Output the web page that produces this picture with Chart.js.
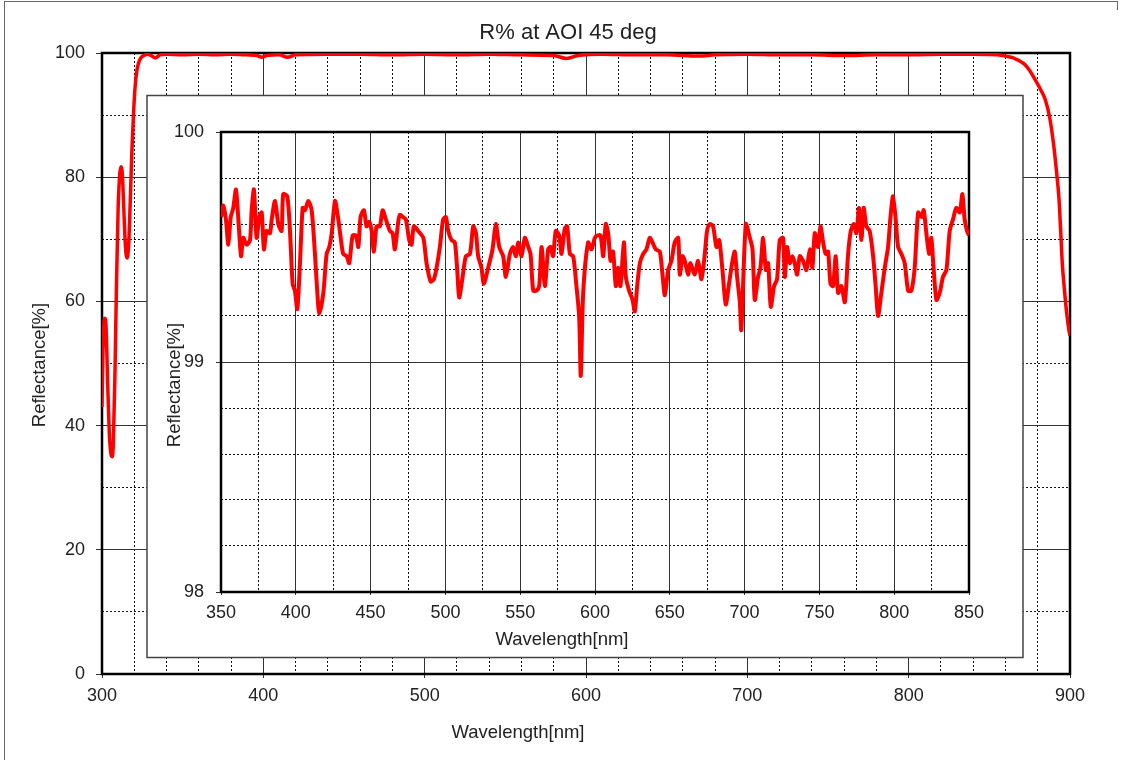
<!DOCTYPE html>
<html>
<head>
<meta charset="utf-8">
<title>R% at AOI 45 deg</title>
<script src="https://cdn.jsdelivr.net/npm/chart.js@4.4.1/dist/chart.umd.min.js"></script>
<style>
  html, body { margin: 0; padding: 0; background: #fff; }
  body { width: 1126px; height: 760px; position: relative; overflow: hidden; }
  #sheet { position: absolute; left: 4px; top: 1px; width: 1114px; height: 800px; border-left: 1px solid #666; border-top: 1px solid #666; box-sizing: border-box; }
  #sheet::after { content: ''; position: absolute; right: 0; top: -1px; width: 1px; height: 9px; background: #666; }
  #mainChart { position: absolute; left: 0; top: 0; }
  #insetChart { position: absolute; left: 146px; top: 94px; }
</style>
</head>
<body>
<div id="sheet"></div>
<canvas id="mainChart" width="1126" height="760"></canvas>
<canvas id="insetChart" width="878" height="565"></canvas>
<script>
// full range 300-900 nm
const outerNm = [300, 300.6, 301.2, 301.8, 302.5, 303.5, 304.5, 305.5, 306.3, 307, 308, 309, 310, 311, 311.8,
  312.6, 313.5, 314.5, 315.5, 316.5, 317.5, 318.5, 319.5, 320.5, 321.5, 322.7, 324, 326, 328, 331, 333, 336,
  340, 350, 360, 370, 380, 390, 396, 399, 402, 410, 415, 420, 440, 460, 480, 500, 520, 540, 560, 580, 588,
  595, 610, 630, 650, 670, 680, 700, 720, 740, 760, 780, 800, 820, 840, 855, 860, 865, 871.4, 875, 878.6,
  882, 884.8, 887.5, 890, 891.8, 893.1, 894.2, 895.2, 896.5, 898, 899.3, 900];
const outerR = [43, 52, 56.5, 57.3, 56, 47, 39, 35.5, 35, 37, 48, 63, 75, 80.5, 81.7,
  80.5, 75, 69, 67, 69, 76, 84, 90, 94.5, 97, 98.4, 99.2, 99.6, 99.8, 99.5, 99.2, 99.7,
  99.8, 99.7, 99.8, 99.7, 99.8, 99.7, 99.6, 99.3, 99.6, 99.7, 99.3, 99.7, 99.8, 99.8, 99.7, 99.8, 99.7, 99.8, 99.7, 99.6, 99.1,
  99.6, 99.8, 99.7, 99.7, 99.5, 99.7, 99.8, 99.7, 99.7, 99.6, 99.7, 99.7, 99.8, 99.8, 99.7, 99.5, 99.2, 98.3, 97.2, 95.6,
  94, 92.4, 89.5, 84.9, 80.5, 76.8, 71.5, 66.2, 62, 58, 55.4, 54.5];

// zoomed range 350-850 nm
const insetNm = [350.0, 351.6, 353.3, 354.9, 356.5, 358.2, 360.0, 361.6, 363.4, 364.9, 367.1, 369.4, 370.5, 372.0,
  373.8, 375.6, 377.2, 378.7, 380.5, 382.7, 383.9, 386.1, 388.3, 390.5, 391.6, 394.3, 396.1, 397.9, 399.4, 401.0,
  402.8, 404.6, 406.1, 408.3, 410.6, 412.8, 414.4, 415.7, 418.4, 420.6, 422.4, 424.0, 426.2, 428.4, 430.0, 431.7,
  434.0, 435.7, 438.0, 440.2, 441.8, 443.3, 445.5, 447.3, 449.1, 450.7, 452.2, 454.0, 456.2, 458.0, 460.2, 462.9,
  464.7, 466.2, 468.5, 469.6, 471.8, 473.6, 475.8, 477.4, 478.9, 481.8, 485.2, 487.4, 490.1, 492.3, 494.1, 496.3,
  498.5, 500.3, 501.9, 504.1, 506.3, 507.9, 509.2, 511.5, 513.7, 516.4, 518.6, 520.4, 521.9, 524.1, 525.7, 528.6,
  531.5, 533.7, 536.0, 538.6, 540.4, 543.1, 545.3, 547.1, 548.7, 550.9, 553.1, 555.4, 556.9, 558.7, 560.9, 562.7,
  564.3, 566.5, 568.7, 570.3, 572.0, 573.8, 576.1, 577.6, 579.8, 581.4, 583.2, 585.4, 587.6, 589.4, 590.5, 592.1,
  595.4, 597.7, 599.9, 601.5, 603.7, 605.5, 607.2, 608.8, 610.4, 612.1, 613.9, 615.5, 617.0, 619.3, 620.6, 622.8,
  625.1, 626.6, 628.2, 630.0, 632.2, 634.4, 636.6, 638.4, 640.6, 643.3, 645.1, 646.7, 648.9, 651.1, 653.3, 655.6,
  656.7, 658.5, 660.0, 662.2, 663.8, 666.7, 668.9, 671.2, 673.4, 674.9, 676.7, 678.9, 681.2, 683.0, 685.2, 687.4,
  689.6, 691.9, 693.4, 695.0, 696.8, 697.8, 700.8, 703.5, 705.3, 706.8, 709.0, 710.6, 712.4, 714.2, 715.7, 717.5,
  719.7, 721.7, 723.5, 725.7, 726.9, 728.4, 730.2, 732.0, 733.5, 735.1, 736.9, 739.1, 741.3, 743.6, 745.3, 746.9,
  749.1, 750.7, 752.5, 754.2, 755.8, 757.4, 759.1, 760.9, 762.5, 764.7, 767.0, 769.2, 771.0, 773.0, 774.7, 776.5,
  778.1, 779.6, 781.4, 783.6, 785.9, 787.6, 789.2, 791.4, 793.7, 795.9, 797.5, 799.2, 801.0, 802.6, 804.8, 807.0,
  809.3, 811.5, 813.7, 816.0, 818.2, 819.7, 821.5, 823.3, 824.8, 826.0, 828.2, 830.4, 832.6, 834.9, 837.1, 839.3,
  841.5, 843.8, 845.6, 847.1, 848.7, 850.0];
const insetR = [99.63, 99.68, 99.62, 99.51, 99.63, 99.67, 99.75, 99.62, 99.46, 99.54, 99.51, 99.53, 99.66, 99.75,
  99.54, 99.63, 99.65, 99.49, 99.57, 99.56, 99.62, 99.70, 99.60, 99.57, 99.73, 99.72, 99.57, 99.34, 99.31, 99.23,
  99.43, 99.67, 99.66, 99.70, 99.66, 99.47, 99.30, 99.21, 99.30, 99.47, 99.50, 99.56, 99.70, 99.62, 99.54, 99.47,
  99.46, 99.43, 99.55, 99.55, 99.50, 99.63, 99.66, 99.59, 99.61, 99.57, 99.48, 99.59, 99.59, 99.66, 99.62, 99.57,
  99.56, 99.49, 99.61, 99.64, 99.63, 99.62, 99.53, 99.51, 99.59, 99.57, 99.54, 99.43, 99.35, 99.36, 99.41, 99.50,
  99.62, 99.63, 99.57, 99.53, 99.52, 99.40, 99.28, 99.37, 99.46, 99.47, 99.59, 99.56, 99.46, 99.41, 99.34, 99.41,
  99.49, 99.60, 99.50, 99.46, 99.37, 99.47, 99.50, 99.46, 99.52, 99.46, 99.54, 99.50, 99.47, 99.31, 99.31, 99.33,
  99.50, 99.33, 99.49, 99.50, 99.46, 99.57, 99.55, 99.47, 99.58, 99.59, 99.47, 99.46, 99.33, 99.20, 98.94, 99.30,
  99.52, 99.49, 99.54, 99.55, 99.55, 99.46, 99.60, 99.56, 99.44, 99.48, 99.33, 99.41, 99.33, 99.52, 99.37, 99.31,
  99.27, 99.22, 99.33, 99.43, 99.47, 99.49, 99.54, 99.52, 99.49, 99.48, 99.38, 99.29, 99.40, 99.44, 99.52, 99.54,
  99.38, 99.46, 99.44, 99.38, 99.43, 99.38, 99.44, 99.36, 99.47, 99.57, 99.60, 99.59, 99.50, 99.53, 99.40, 99.25,
  99.34, 99.44, 99.48, 99.37, 99.26, 99.14, 99.60, 99.54, 99.49, 99.27, 99.37, 99.41, 99.54, 99.40, 99.43, 99.24,
  99.33, 99.36, 99.53, 99.54, 99.37, 99.50, 99.43, 99.46, 99.43, 99.38, 99.46, 99.44, 99.40, 99.49, 99.41, 99.56,
  99.50, 99.59, 99.52, 99.47, 99.48, 99.34, 99.33, 99.46, 99.30, 99.33, 99.26, 99.47, 99.57, 99.60, 99.56, 99.67,
  99.53, 99.67, 99.59, 99.57, 99.46, 99.33, 99.20, 99.30, 99.41, 99.50, 99.63, 99.72, 99.62, 99.50, 99.47, 99.43,
  99.31, 99.31, 99.41, 99.65, 99.63, 99.66, 99.56, 99.47, 99.54, 99.44, 99.27, 99.30, 99.37, 99.40, 99.57, 99.62,
  99.67, 99.65, 99.73, 99.62, 99.57, 99.55];

const FONT = '"Liberation Sans", Arial, sans-serif';
const RED = '#ff0000';

// thick black border round the plot area
const frame = {
  id: 'frame',
  beforeDatasetsDraw(chart) {
    const { ctx, chartArea: a } = chart;
    ctx.save();
    ctx.lineWidth = 2.5;
    ctx.strokeStyle = '#000';
    ctx.strokeRect(a.left, a.top, a.right - a.left, a.bottom - a.top);
    ctx.restore();
  }
};

// white card behind the zoomed chart
const card = {
  id: 'card',
  beforeDraw(chart) {
    const ctx = chart.ctx;
    ctx.save();
    ctx.fillStyle = '#fff';
    ctx.fillRect(1, 1, 876, 563);
    ctx.lineWidth = 1.5;
    ctx.strokeStyle = '#444';
    ctx.strokeRect(1, 1.5, 876, 562);
    ctx.restore();
  }
};

function texts(items) {
  return {
    id: 'texts',
    afterDraw(chart) {
      const ctx = chart.ctx;
      items.forEach(t => {
        ctx.save();
        ctx.font = t.font;
        ctx.fillStyle = '#222';
        ctx.textAlign = 'center';
        ctx.textBaseline = 'middle';
        ctx.translate(t.x, t.y);
        ctx.rotate(t.rot || 0);
        ctx.fillText(t.text, 0, 0);
        ctx.restore();
      });
    }
  };
}

function majorAxis(min, max, step, position, size, tickLen, pad) {
  return {
    type: 'linear', position, min, max,
    ticks: { stepSize: step, autoSkip: false, maxRotation: 0, padding: pad, color: '#222', font: { family: FONT, size: 18 } },
    grid: { color: '#333', lineWidth: 1, tickLength: tickLen },
    border: { display: false },
    afterFit: s => { if (position === 'left') s.width = size; else s.height = size; }
  };
}

function minorAxis(min, max, step, position) {
  return {
    type: 'linear', position, min, max,
    ticks: { stepSize: step, display: false, maxTicksLimit: 200 },
    grid: { color: '#111', lineWidth: 1, drawTicks: false },
    border: { display: false, dash: [2, 2] },
    afterFit: s => { if (position === 'left') s.width = 0; else s.height = 0; }
  };
}

new Chart(document.getElementById('mainChart'), {
  type: 'line',
  data: {
    datasets: [{
      data: outerNm.map((x, i) => ({ x, y: outerR[i] })),
      borderColor: RED,
      borderWidth: 3.5,
      pointRadius: 0,
      cubicInterpolationMode: 'monotone',
      xAxisID: 'x',
      yAxisID: 'y'
    }]
  },
  options: {
    responsive: false,
    animation: false,
    layout: { padding: { left: 0, top: 53, right: 56, bottom: 0 } },
    plugins: { legend: { display: false }, tooltip: { enabled: false } },
    scales: {
      xMinor: minorAxis(300, 900, 20, 'bottom'),
      yMinor: minorAxis(0, 100, 10, 'left'),
      x: majorAxis(300, 900, 100, 'bottom', 86, 4, 7),
      y: majorAxis(0, 100, 20, 'left', 102, 6, 11)
    }
  },
  plugins: [frame, texts([
    { text: 'R% at AOI 45 deg', x: 568, y: 33, font: '22px ' + FONT },
    { text: 'Reflectance[%]', x: 40, y: 365, rot: -Math.PI / 2, font: '18.5px ' + FONT },
    { text: 'Wavelength[nm]', x: 518, y: 733, font: '18.5px ' + FONT }
  ])]
});

new Chart(document.getElementById('insetChart'), {
  type: 'line',
  data: {
    datasets: [{
      data: insetNm.map((x, i) => ({ x, y: insetR[i] })),
      borderColor: RED,
      borderWidth: 4,
      pointRadius: 0,
      tension: 0.25,
      xAxisID: 'x',
      yAxisID: 'y'
    }]
  },
  options: {
    responsive: false,
    animation: false,
    layout: { padding: { left: 0, top: 38, right: 55, bottom: 0 } },
    plugins: { legend: { display: false }, tooltip: { enabled: false } },
    scales: {
      xMinor: minorAxis(350, 850, 25, 'bottom'),
      yMinor: minorAxis(98, 100, 0.2, 'left'),
      x: majorAxis(350, 850, 50, 'bottom', 67, 3, 7),
      y: majorAxis(98, 100, 1, 'left', 75, 5, 12)
    }
  },
  plugins: [card, frame, texts([
    { text: 'Reflectance[%]', x: 29, y: 291, rot: -Math.PI / 2, font: '18.5px ' + FONT },
    { text: 'Wavelength[nm]', x: 416, y: 546, font: '18.5px ' + FONT }
  ])]
});
</script>
</body>
</html>
